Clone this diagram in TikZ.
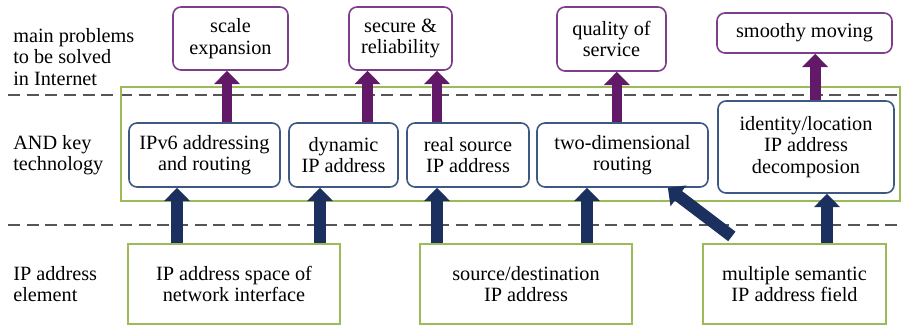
\documentclass[tikz,border=0pt]{standalone}
\usepackage{fontspec}
\setmainfont{Liberation Serif}[Ligatures=TeX]
\newfontfamily\timesface{Liberation Serif}
\usetikzlibrary{arrows.meta}

\definecolor{probline}{RGB}{125,62,140}
\definecolor{probarrow}{RGB}{98,26,104}
\definecolor{techline}{RGB}{62,88,132}
\definecolor{elemarrow}{RGB}{28,48,96}
\definecolor{layergreen}{RGB}{155,187,89}
\definecolor{sepgray}{RGB}{85,85,85}

\begin{document}
\begin{tikzpicture}[x=0.75pt,y=-0.75pt,
  every node/.style={font=\timesface\fontsize{15.2}{16.2}\selectfont,align=center,inner sep=0pt},
  problem/.style={draw=probline,line width=1.2pt,rounded corners=6pt},
  tech/.style={draw=techline,line width=1.2pt,rounded corners=6pt},
  element/.style={draw=layergreen,line width=1.4pt},
  rowlabel/.style={anchor=west,align=left},
  probup/.style={-{Triangle[length=10pt,width=19pt]},line width=8pt,draw=probarrow},
  elemup/.style={-{Triangle[length=10pt,width=19pt]},line width=9pt,draw=elemarrow},
  separator/.style={sepgray,line width=1.5pt,dash pattern=on 9pt off 5pt}]
  \useasboundingbox (0,0) rectangle (904,326);
  % layers
  \draw[separator] (8,95) -- (904,95);
  \draw[separator] (8,225) -- (904,225);
  \draw[layergreen,line width=1.4pt] (121,87) rectangle (900,201);
  % row labels
  \node[rowlabel] (lblprob) at (13,57) {main problems\\to be solved\\in Internet};
  \node[rowlabel] (lbltech) at (13,155) {AND key\\technology};
  \node[rowlabel] (lblelem) at (13,284) {IP address\\element};
  % problems
  \node[problem,minimum width=86.25pt,minimum height=47.25pt] (scale) at (230.5,38.5) {scale\\expansion};
  \node[problem,minimum width=77.25pt,minimum height=47.25pt] (secure) at (400.5,38.5) {secure \&\\reliability};
  \node[problem,minimum width=81.75pt,minimum height=48pt] (quality) at (611.5,39) {quality of\\service};
  \node[problem,minimum width=131.25pt,minimum height=30pt] (smoothy) at (804.5,33) {smoothy moving};
  % key technology
  \node[tech,minimum width=113.25pt,minimum height=48pt] (ipv6) at (204.5,155) {IPv6 addressing\\and routing};
  \node[tech,minimum width=81.75pt,minimum height=48pt] (dynamic) at (343.5,155) {dynamic\\IP address};
  \node[tech,minimum width=91.5pt,minimum height=48pt] (realsrc) at (468,155) {real source\\IP address};
  \node[tech,minimum width=128.25pt,minimum height=48pt] (twodim) at (622.5,155) {two-dimensional\\routing};
  \node[tech,minimum width=132pt,minimum height=69pt] (identity) at (806,147) {identity/location\\IP address\\decomposion};
  % address elements
  \node[element,minimum width=159pt,minimum height=60pt] (space) at (234,284) {IP address space of\\network interface};
  \node[element,minimum width=159pt,minimum height=60pt] (srcdst) at (526,284) {source/destination\\IP address};
  \node[element,minimum width=137.25pt,minimum height=60pt] (multi) at (794.5,284) {multiple semantic\\IP address field};
  % technology -> problems
  \draw[probup] ([xshift=-2.6pt]scale.south |- ipv6.north) -- ([xshift=-2.6pt]scale.south);
  \draw[probup] ([xshift=-24.75pt]secure.south |- dynamic.north) -- ([xshift=-24.75pt]secure.south);
  \draw[probup] ([xshift=27.4pt]secure.south |- realsrc.north) -- ([xshift=27.4pt]secure.south);
  \draw[probup] ([xshift=4pt]quality.south |- twodim.north) -- ([xshift=4pt]quality.south);
  \draw[probup] ([xshift=8pt]smoothy.south |- identity.north) -- ([xshift=8pt]smoothy.south);
  % elements -> technology
  \draw[elemup] ([xshift=-20.6pt]ipv6.south |- space.north) -- ([xshift=-20.6pt]ipv6.south);
  \draw[elemup] ([xshift=-17.6pt]dynamic.south |- space.north) -- ([xshift=-17.6pt]dynamic.south);
  \draw[elemup] ([xshift=-23.25pt]realsrc.south |- srcdst.north) -- ([xshift=-23.25pt]realsrc.south);
  \draw[elemup] ([xshift=-26.6pt]twodim.south |- srcdst.north) -- ([xshift=-26.6pt]twodim.south);
  \draw[elemup] ([xshift=-47pt,yshift=5pt]multi.north) -- ([xshift=34pt]twodim.south);
  \draw[elemup] ([xshift=15.75pt]identity.south |- multi.north) -- ([xshift=15.75pt]identity.south);
\end{tikzpicture}
\end{document}
